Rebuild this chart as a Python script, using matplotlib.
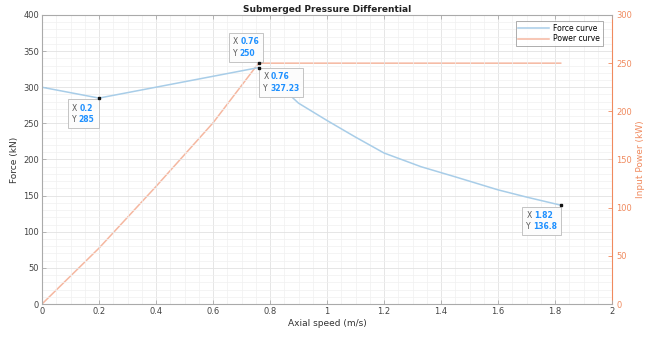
import matplotlib
matplotlib.use("Agg")
import matplotlib.pyplot as plt
from matplotlib.offsetbox import TextArea, HPacker, VPacker, AnnotationBbox
from matplotlib.ticker import MultipleLocator

plt.rcParams['font.family'] = ['DejaVu Sans']

# Data
speed_force = [0, 0.2, 0.76, 0.87, 0.9, 1.0, 1.1, 1.2, 1.33, 1.45, 1.6, 1.7, 1.82]
force = [300, 285, 327.23, 289, 278, 254, 231, 209, 190, 176, 158, 148, 136.8]
speed_power = [0, 0.2, 0.4, 0.6, 0.76, 1.0, 1.2, 1.4, 1.6, 1.82]
power = [0, 58, 122, 188, 250, 250, 250, 250, 250, 250]

tips = [  # (axis, x, y, label_x, label_y, box_alignment, offset in points)
    ("left", 0.2, 285, "0.2", "285", (1, 1), (-3.2, -4.0)),
    ("right", 0.76, 250, "0.76", "250", (1, 0), (0.2, 3.8)),
    ("left", 0.76, 327.23, "0.76", "327.23", (0, 1), (3.4, -3.4)),
    ("left", 1.82, 136.8, "1.82", "136.8", (1, 1), (-2.6, -4.0)),
]

c_force = '#A8CDE8'
c_power = '#F5B7A0'
c_right = '#F08A5E'
c_axis = '#444444'
c_tip = '#1E90FF'

fig = plt.figure(figsize=(6.49, 3.42), dpi=100)
ax = fig.add_axes([42/649, 38/342, 570/649, 289/342])
ax2 = ax.twinx()

l1, = ax.plot(speed_force, force, color=c_force, lw=1.1, label='Force curve')
l2, = ax2.plot(speed_power, power, color=c_power, lw=1.1, label='Power curve')

ax.set_xlim(0, 2)
ax.set_ylim(0, 400)
ax2.set_ylim(0, 300)
ax.xaxis.set_major_locator(MultipleLocator(0.2))
ax.xaxis.set_minor_locator(MultipleLocator(0.05))
ax.yaxis.set_major_locator(MultipleLocator(50))
ax.yaxis.set_minor_locator(MultipleLocator(10))
ax2.yaxis.set_major_locator(MultipleLocator(50))

ax.grid(which='major', color='#E2E2E2', lw=0.6)
ax.grid(which='minor', color='#F0F0F0', lw=0.5)
ax.set_axisbelow(True)

for sp in ['left', 'bottom', 'top']:
    ax.spines[sp].set_color('#AAAAAA')
    ax.spines[sp].set_linewidth(0.8)
ax.spines['right'].set_visible(False)
ax2.spines['left'].set_visible(False)
ax2.spines['top'].set_visible(False)
ax2.spines['bottom'].set_visible(False)
ax2.spines['right'].set_color(c_right)
ax2.spines['right'].set_linewidth(0.8)

ax.tick_params(axis='both', which='major', direction='in', length=3, width=0.6,
               labelsize=6, top=True, pad=2, labelcolor=c_axis, color='#AAAAAA')
ax.tick_params(axis='both', which='minor', length=0)
ax2.tick_params(axis='y', direction='in', length=3, width=0.6, labelsize=6,
                colors=c_right, pad=3)

ax.set_xticks([0, 0.2, 0.4, 0.6, 0.8, 1, 1.2, 1.4, 1.6, 1.8, 2])
ax.set_xticklabels(['0', '0.2', '0.4', '0.6', '0.8', '1', '1.2', '1.4', '1.6', '1.8', '2'])

ax.set_xlabel('Axial speed (m/s)', fontsize=6.5, color='#333333', labelpad=2)
ax.set_ylabel('Force (kN)', fontsize=6.5, color='#333333', labelpad=3)
ax2.set_ylabel('Input Power (kW)', fontsize=6.5, color=c_right, labelpad=3)
ax.set_title('Submerged Pressure Differential', fontsize=6.5, fontweight='bold',
             color='#222222', pad=2)

leg = ax.legend(handles=[l1, l2], loc='upper right', fontsize=5.5, frameon=True,
                fancybox=False, edgecolor='#888888', handlelength=4.0,
                borderpad=0.35, labelspacing=0.2, handletextpad=0.6,
                borderaxespad=0, bbox_to_anchor=(1 - 9/570, 1 - 6/289))
leg.get_frame().set_linewidth(0.6)
leg.set_zorder(10)

for axis, x, y, lx, ly, align, off in tips:
    tr = ax.transData if axis == 'left' else ax2.transData
    rows = []
    for k, v in (("X", lx), ("Y", ly)):
        t1 = TextArea(k, textprops=dict(color='#555555', fontsize=5.5))
        t2 = TextArea(v, textprops=dict(color=c_tip, fontsize=5.5, fontweight='bold'))
        rows.append(HPacker(children=[t1, t2], pad=0, sep=1.5, align='baseline'))
    box = VPacker(children=rows, pad=0, sep=1.8, align='left')
    ab = AnnotationBbox(box, (x, y), xybox=off, xycoords=tr,
                        boxcoords='offset points', box_alignment=align,
                        frameon=True, pad=0.3,
                        bboxprops=dict(facecolor='#FCFCFC', edgecolor='#BBBBBB', lw=0.6))
    ab.set_zorder(7)
    ax.add_artist(ab)
    ax.plot([x], [y], 's', color='#111111', ms=1.6, zorder=9, transform=tr)

ax2.set_zorder(1)
ax.set_zorder(2)
ax.patch.set_visible(False)

fig.savefig('out.png', dpi=100, facecolor='white')
